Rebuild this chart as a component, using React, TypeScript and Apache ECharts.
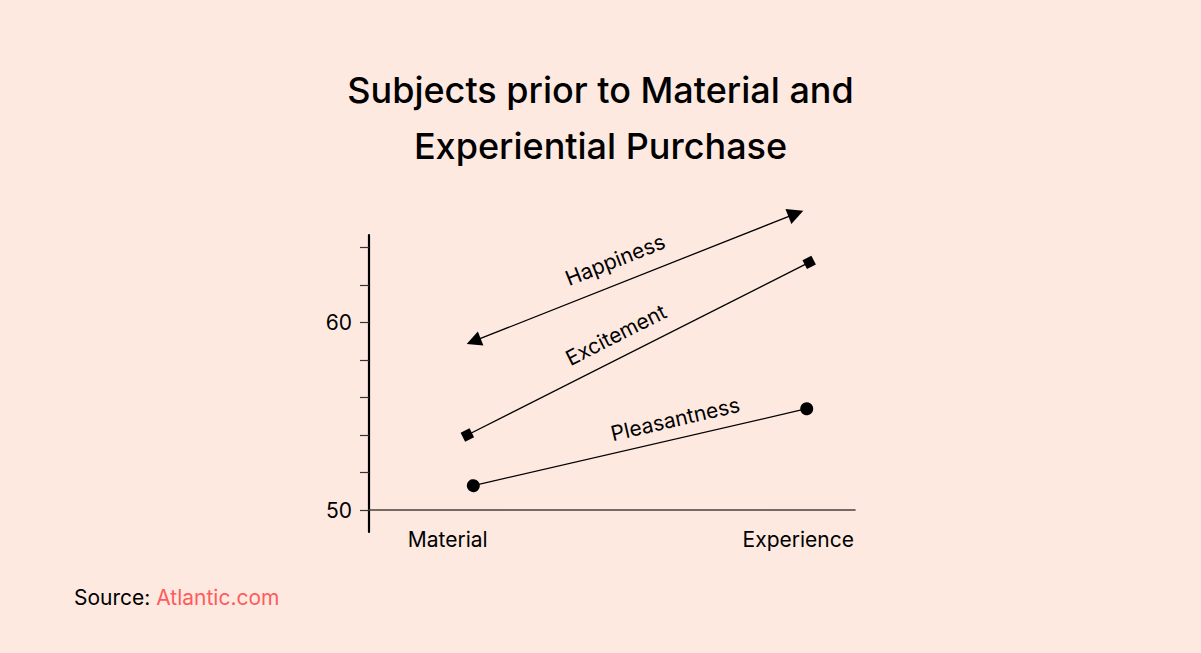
import React, { useEffect, useRef } from "react";
import * as echarts from "echarts";

// ---- data ----
const categories = ["Material", "Experience"];
const categoryX = [0, 1];
const yTickValues = [50, 52, 54, 56, 58, 60, 62, 64];
const yLabelValues = [50, 60];

const seriesNames = ["Happiness", "Excitement", "Pleasantness"];
const happinessX = [0.074, 0.993];
const happinessY = [59.0, 65.8];
const excitementX = [0.056, 1.031];
const excitementY = [54.0, 63.2];
const pleasantnessX = [0.073, 1.024];
const pleasantnessY = [51.3, 55.4];

const FONT = "Inter";

function makeLine(
  name: string,
  xs: number[],
  ys: number[],
  symbol: string,
  symbolSize: number | number[],
  labelDistance: number[]
) {
  return {
    type: "lines",
    name,
    coordinateSystem: "cartesian2d",
    clip: false,
    silent: true,
    symbol: [symbol, symbol],
    symbolSize,
    lineStyle: { color: "#000000", width: 1.3, opacity: 1 },
    label: {
      show: true,
      position: "insideStartTop",
      distance: labelDistance,
      formatter: name,
      color: "#000000",
      fontSize: 21,
      fontFamily: FONT,
    },
    data: [
      {
        coords: [
          [xs[0], ys[0]],
          [xs[1], ys[1]],
        ],
      },
    ],
  };
}

export default function App() {
  const ref = useRef<HTMLDivElement>(null);

  useEffect(() => {
    if (!ref.current) return;
    const chart = echarts.init(ref.current, undefined, { renderer: "svg" });
    const option: any = {
      animation: false,
      backgroundColor: "#fee9e1",
      title: {
        text: "Subjects prior to Material and\nExperiential Purchase",
        left: "center",
        top: 62,
        padding: 0,
        textStyle: {
          fontFamily: FONT,
          fontSize: 36,
          fontWeight: 500,
          color: "#000000",
          lineHeight: 56,
        },
      },
      grid: {
        left: 369,
        right: 346,
        top: 235,
        bottom: 121,
        containLabel: false,
      },
      xAxis: {
        type: "value",
        min: -0.2245,
        max: 1.1617,
        offset: -22,
        axisLine: { show: true, onZero: false, lineStyle: { color: "#4a3f3b", width: 1.6 } },
        axisTick: { show: false },
        splitLine: { show: false },
        axisLabel: {
          customValues: categoryX,
          formatter: (v: number) => categories[categoryX.indexOf(v)] ?? "",
          color: "#000000",
          fontSize: 21,
          fontFamily: FONT,
          margin: 19,
        },
      },
      yAxis: {
        type: "value",
        min: 48.83,
        max: 64.66,
        axisLine: { show: true, onZero: false, lineStyle: { color: "#000000", width: 2.2 } },
        axisTick: {
          show: true,
          customValues: yTickValues,
          length: 9,
          lineStyle: { color: "#333333", width: 1.2 },
        },
        splitLine: { show: false },
        axisLabel: {
          customValues: yLabelValues,
          color: "#000000",
          fontSize: 21,
          fontFamily: FONT,
          margin: 17,
        },
      },
      graphic: [
        {
          type: "text",
          left: 74,
          top: 587,
          style: {
            text: "{a|Source: }{b|Atlantic.com}",
            rich: {
              a: { fontSize: 21, fontFamily: FONT, fill: "#000000" },
              b: { fontSize: 21, fontFamily: FONT, fill: "#fd5c5c" },
            },
          },
        },
      ],
      series: [
        makeLine(seriesNames[0], happinessX, happinessY, "triangle", [15, 16], [109, 13]),
        makeLine(seriesNames[1], excitementX, excitementY, "rect", 10, [123, 12]),
        makeLine(seriesNames[2], pleasantnessX, pleasantnessY, "circle", 13, [146, 9]),
      ],
    };
    chart.setOption(option);
    return () => chart.dispose();
  }, []);

  return (
    <div
      ref={ref}
      style={{ position: "fixed", left: 0, top: 0, width: 1201, height: 653 }}
    />
  );
}
